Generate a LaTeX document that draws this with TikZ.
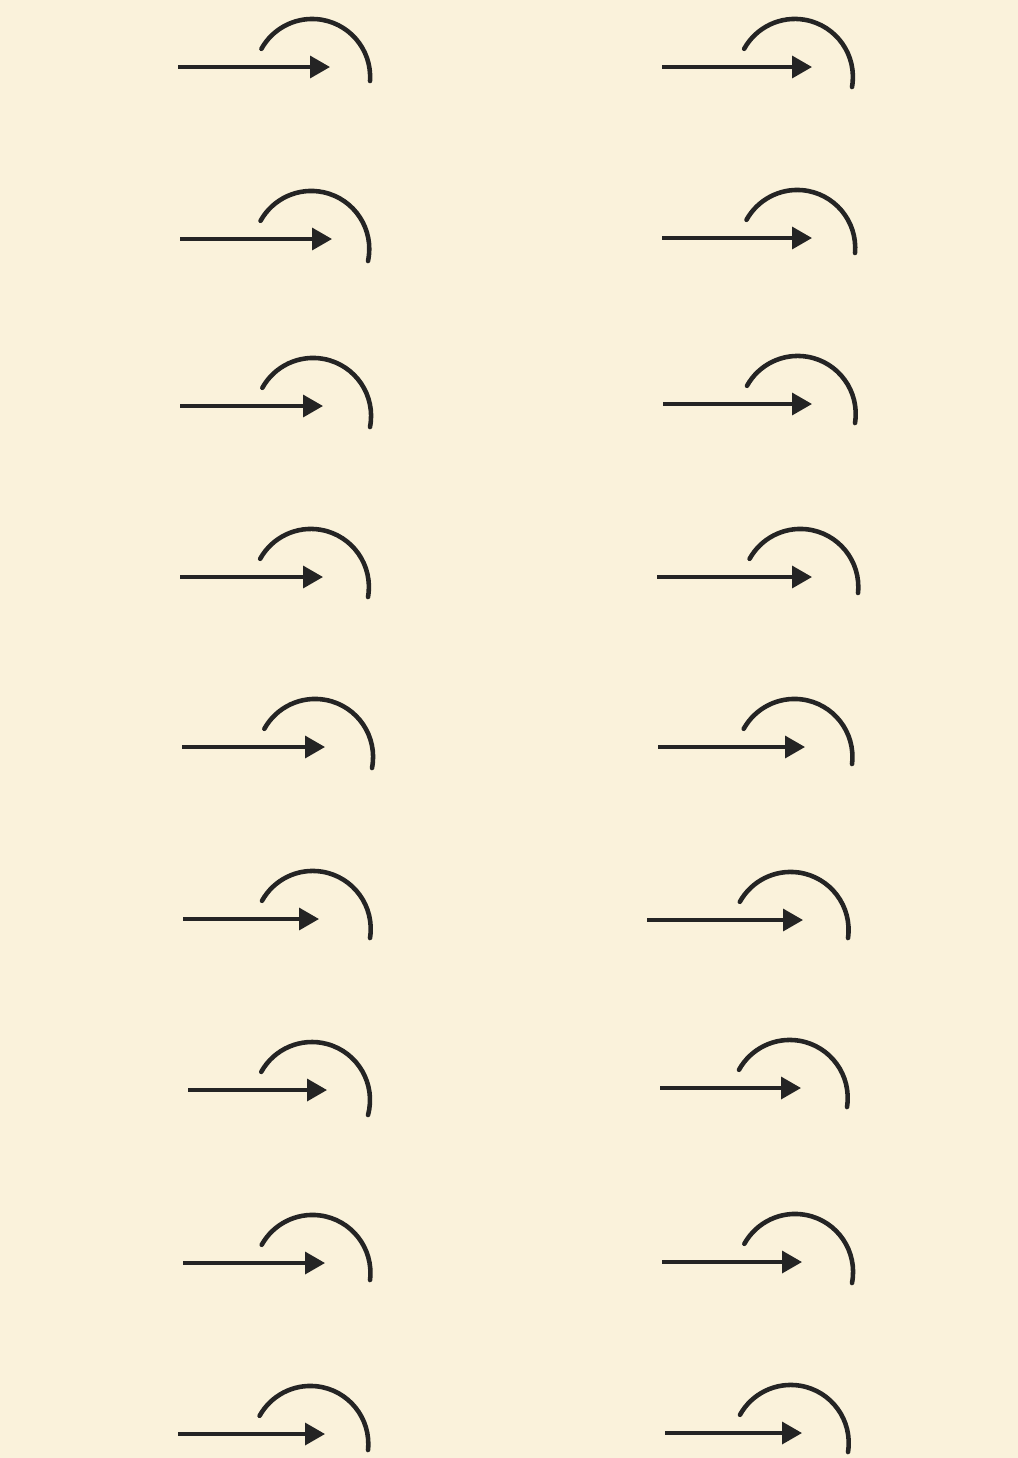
\documentclass[tikz,border=0pt]{standalone}
\usepackage{tikz}
\usetikzlibrary{arrows.meta}
\definecolor{mypaper}{RGB}{250,242,219}
\definecolor{myink}{RGB}{36,36,36}
\tikzset{
  turnarrow/.style={-{Triangle[length=0.4cm, width=0.44cm]}, line width=2pt, color=myink},
  turnarc/.style={line width=2.6pt, color=myink, line cap=round}
}

\begin{document}
\begin{tikzpicture}[x=0.02cm, y=0.02cm]
  \fill[mypaper] (0,0) rectangle (1018,-1458);
  \useasboundingbox (0,0) rectangle (1018,-1458);
  % tail x / tip x / arrow y / arc end x / arc end y / arc end angle
  \foreach \tx/\hx/\ay/\ex/\ey/\ea [count=\i] in {
      178/330/67/370/81/-4, 180/332/239/368/261/-12,
      180/323/406/370/427/-11, 180/323/577/368/597/-10,
      182/325/747/372/768/-11, 183/319/919/370/938/-9,
      188/327/1090/368/1115/-15, 183/325/1263/370/1280/-7,
      178/325/1434/368/1450/-6,
      662/812/67/852/87/-10, 662/812/238/855/253/-5,
      663/812/404/855/423/-9, 657/812/577/858/593/-6,
      658/805/747/852/764/-7, 647/803/920/848/938/-8,
      660/801/1088/847/1107/-9, 662/802/1262/852/1283/-11,
      665/802/1433/848/1452/-9}
  {
    \coordinate (tail-\i) at (\tx,-\ay);
    \coordinate (tip-\i) at (\hx,-\ay);
    \coordinate (arcend-\i) at (\ex,-\ey);
    \draw[turnarrow] (tail-\i) -- (tip-\i);
    \draw[turnarc] (arcend-\i) arc[start angle=\ea, end angle=151, radius=58];
  }
\end{tikzpicture}
\end{document}
